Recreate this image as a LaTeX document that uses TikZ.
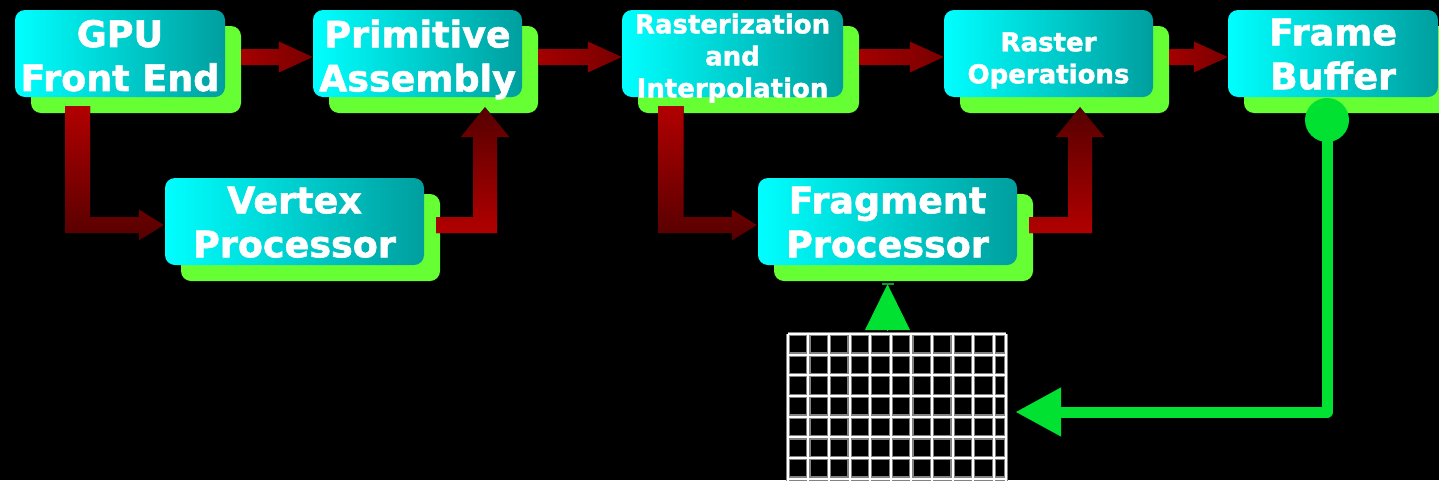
\documentclass[tikz,border=0pt]{standalone}
\usepackage{fontspec}
\setmainfont{DejaVu Sans}
\newfontfamily\stagefont{DejaVu Sans Bold}[FakeBold=1.5]
\usetikzlibrary{shadows,calc,arrows.meta}

\definecolor{boxcyan}{RGB}{0,255,255}
\definecolor{boxteal}{RGB}{0,158,158}
\definecolor{boxshadow}{RGB}{102,255,51}
\definecolor{pipeA}{RGB}{165,0,0}
\definecolor{pipeB}{RGB}{120,0,0}
\definecolor{pipeHi}{RGB}{178,0,0}
\definecolor{pipeLo}{RGB}{85,0,0}
\definecolor{linkgreen}{RGB}{0,225,50}
\definecolor{tickgreen}{RGB}{20,150,50}
\definecolor{gridhalo}{RGB}{130,130,130}

\tikzset{
  stage/.style={rectangle, rounded corners=10pt, left color=boxcyan, right color=boxteal,
    minimum height=87pt, inner sep=0pt,
    general shadow={fill=boxshadow, shadow xshift=16pt, shadow yshift=-16pt}},
  label/.style={text=white, align=center, inner sep=0pt},
  bigtext/.style={font=\stagefont\fontsize{36.5}{44}\selectfont},
  smalltext/.style={font=\stagefont\fontsize{26}{32}\selectfont},
  flowH/.style={left color=pipeA, right color=pipeB},
  flowDown/.style={top color=pipeHi, bottom color=pipeLo},
  flowUp/.style={top color=pipeLo, bottom color=pipeHi},
  feed/.style={draw=linkgreen, line width=11pt, line join=round,
    -{Triangle[length=46pt,width=46pt]}},
  gridback/.style={draw=gridhalo, line width=4.5pt},
  gridfront/.style={draw=white, line width=2pt},
}

% straight pipe arrow from the shadow edge of #1 to the left side of #2
\newcommand\flowright[2]{%
  \fill[flowH] let \p1=($(#1.east)+(16,3.5)$), \p2=($(#2.west)+(0,3.5)$) in
    (\x1,\y1+8pt) -- (\x2-34pt,\y1+8pt) -- (\x2-34pt,\y1+15.5pt) -- (\x2,\y1)
    -- (\x2-34pt,\y1-15.5pt) -- (\x2-34pt,\y1-8pt) -- (\x1,\y1-8pt) -- cycle;}

% elbow pipe: down from #1 at x=#3, then right into #2
\newcommand\flowdown[3]{%
  \fill[flowDown] let \p1=(#1.south), \p2=($(#2.west)+(-1,3.5)$) in
    (#3pt-12.5pt,\y1-9pt) -- (#3pt+12.5pt,\y1-9pt) -- (#3pt+12.5pt,\y2+8pt)
    -- (\x2-25pt,\y2+8pt) -- (\x2-25pt,\y2+15.5pt) -- (\x2,\y2)
    -- (\x2-25pt,\y2-15.5pt) -- (\x2-25pt,\y2-8pt) -- (#3pt-12.5pt,\y2-8pt) -- cycle;}

% elbow pipe: right out of #1, then up at x=#3 into #2
\newcommand\flowup[3]{%
  \fill[flowUp] let \p1=($(#1.east)+(12,3.5)$), \p2=($(#2.south)+(0,10)$) in
    (\x1,\y1-8pt) -- (#3pt+12pt,\y1-8pt) -- (#3pt+12pt,\y2-30pt)
    -- (#3pt+24.5pt,\y2-30pt) -- (#3pt,\y2) -- (#3pt-24.5pt,\y2-30pt)
    -- (#3pt-12pt,\y2-30pt) -- (#3pt-12pt,\y1+8pt) -- (\x1,\y1+8pt) -- cycle;}

\begin{document}
\begin{tikzpicture}[x=1pt, y=-1pt]
  \useasboundingbox (0,0) rectangle (1439,480);
  \fill[black] (0,0) rectangle (1439,480);

  % pipeline stages
  \node[stage, minimum width=210pt] (fe)  at (120,53.5)    {};
  \node[stage, minimum width=209pt] (pa)  at (417.5,53.5)  {};
  \node[stage, minimum width=221pt] (ri)  at (732.5,53.5)  {};
  \node[stage, minimum width=209pt] (rop) at (1048.5,53.5) {};
  \node[stage, minimum width=210pt] (fb)  at (1333,53.5)   {};
  \node[stage, minimum width=259pt] (vp)  at (294.5,221.5) {};
  \node[stage, minimum width=259pt] (fp)  at (887.5,221.5) {};

  \node[label, bigtext]   (fe-t)  at ($(fe)+(0,2.2)$)  {GPU\\Front End};
  \node[label, bigtext]   (pa-t)  at ($(pa)+(0,6)$)    {Primitive\\Assembly};
  \node[label, smalltext] (ri-t)  at ($(ri)+(0,4.7)$)  {Rasterization\\and\\Interpolation};
  \node[label, smalltext] (rop-t) at ($(rop)+(0,7)$)   {Raster\\Operations};
  \node[label, bigtext]   (fb-t)  at ($(fb)+(0,0.7)$)  {Frame\\Buffer};
  \node[label, bigtext]   (vp-t)  at ($(vp)+(0,0.7)$)  {Vertex\\Processor};
  \node[label, bigtext]   (fp-t)  at ($(fp)+(0,0.7)$)  {Fragment\\Processor};

  % data flow between stages
  \flowright{fe}{pa}
  \flowright{pa}{ri}
  \flowright{ri}{rop}
  \flowright{rop}{fb}
  \flowdown{fe}{vp}{77.5}
  \flowup{vp}{pa}{485}
  \flowdown{ri}{fp}{671}
  \flowup{fp}{rop}{1080}

  % texture grid
  \node[minimum width=220pt, minimum height=158pt, inner sep=0pt] (tex) at (897,412) {};
  \begin{scope}[shift={(tex.north west)}]
    \foreach \k in {0,...,10} \draw[gridback] (1+20.6*\k,1) -- (1+20.6*\k,160);
    \draw[gridback] (219,1) -- (219,160);
    \foreach \k in {0,...,7} \draw[gridback] (1,1+20.7*\k) -- (219,1+20.7*\k);
    \foreach \k in {0,...,10} \draw[gridfront] (1+20.6*\k,1) -- (1+20.6*\k,160);
    \draw[gridfront] (219,1) -- (219,160);
    \foreach \k in {0,...,7} \draw[gridfront] (1,1+20.7*\k) -- (219,1+20.7*\k);
  \end{scope}

  % render-to-texture feedback
  \node[circle, fill=linkgreen, minimum size=44pt, inner sep=0pt] (tap) at (1327,120) {};
  \draw[feed] (tap.center) |- ([xshift=8pt]tex.east);
  \draw[linkgreen, line width=1pt, -{Triangle[length=46pt,width=45pt]}]
    ($(fp.south |- tex.north)+(0,-3)$) -- ($(fp.south)+(0,19)$);
  \draw[tickgreen, line width=1.5pt] ($(fp.south)+(-6,19)$) -- ($(fp.south)+(6,19)$);
\end{tikzpicture}
\end{document}
